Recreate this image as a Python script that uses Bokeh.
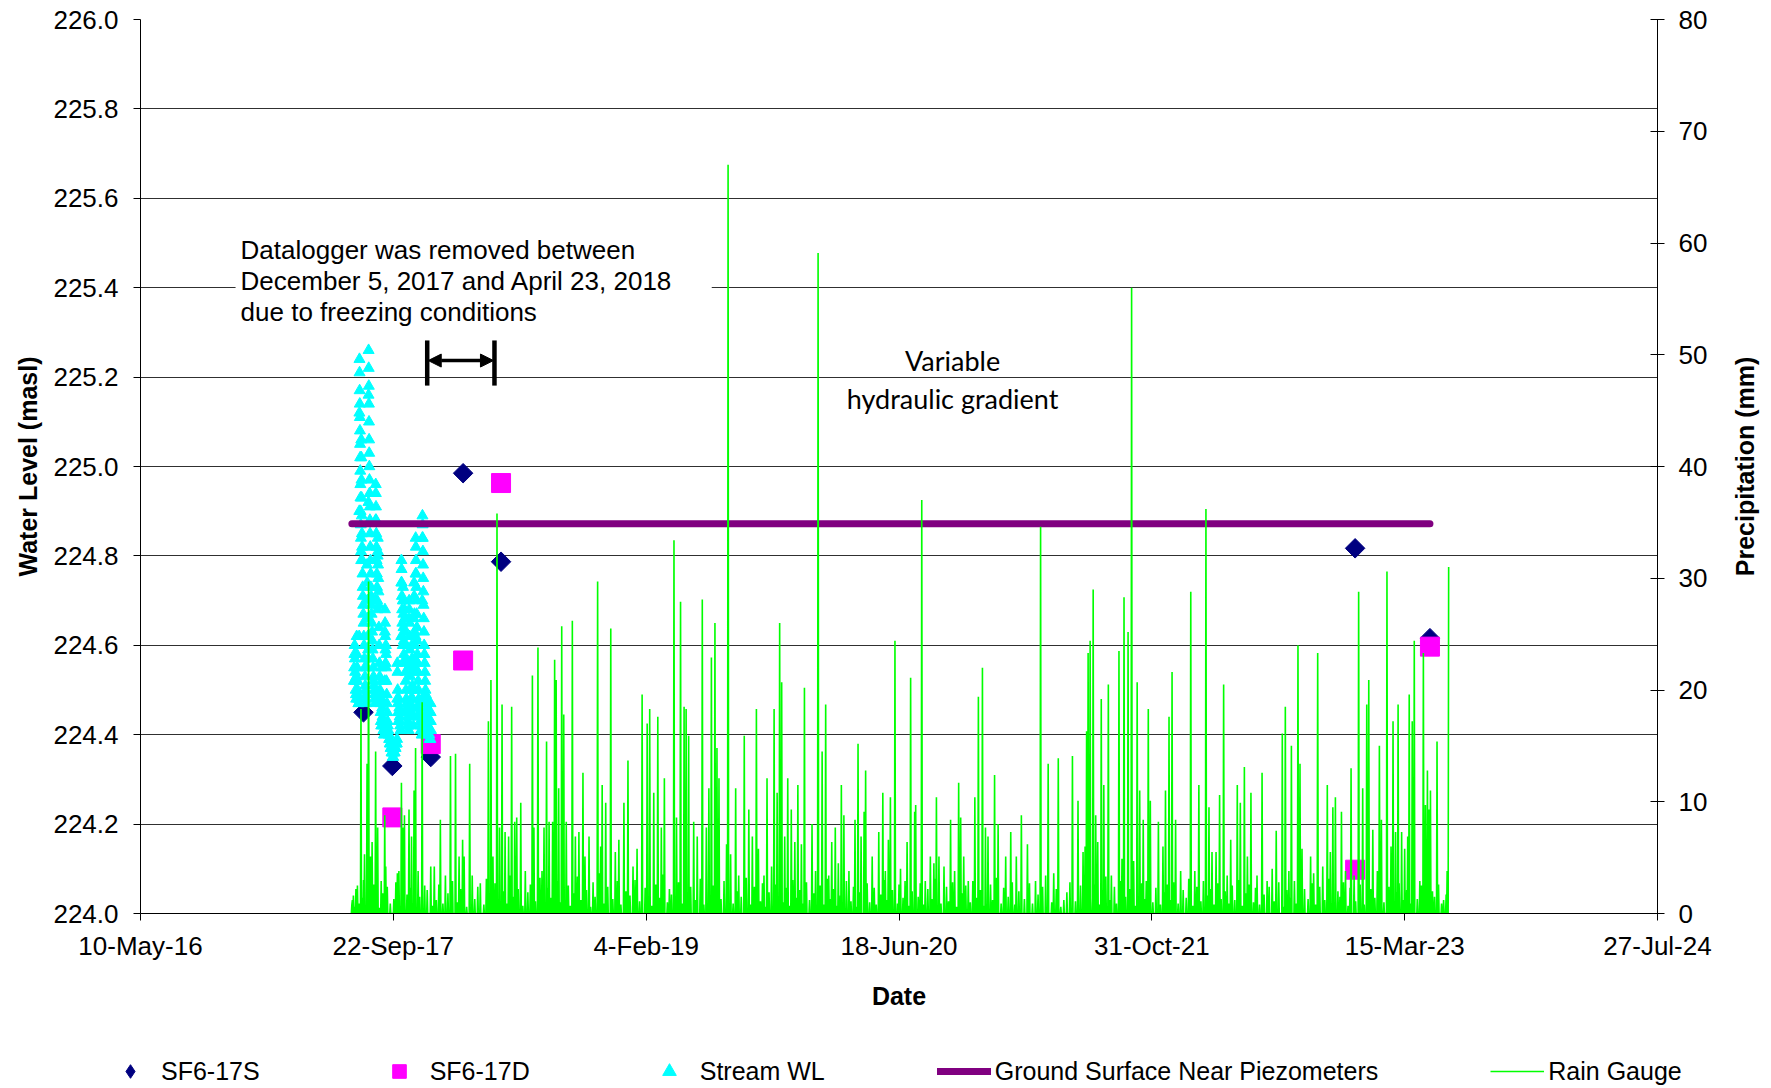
import math
import numpy as np
import pandas as pd
from bokeh.plotting import figure
from bokeh.layouts import column, row
from bokeh.models import (Range1d, LinearAxis, FixedTicker, NumeralTickFormatter, Label,
                          Arrow, NormalHead, Legend, LegendItem)
from bokeh.embed import file_html
from bokeh.resources import INLINE

# ---------------- data ----------------
x_tick_dates = ["2016-05-10", "2017-09-22", "2019-02-04", "2020-06-18", "2021-10-31", "2023-03-15", "2024-07-27"]
x_tick_labels = ["10-May-16", "22-Sep-17", "4-Feb-19", "18-Jun-20", "31-Oct-21", "15-Mar-23", "27-Jul-24"]
wl_ticks = [224.0, 224.2, 224.4, 224.6, 224.8, 225.0, 225.2, 225.4, 225.6, 225.8, 226.0]
rain_ticks = [0, 10, 20, 30, 40, 50, 60, 70, 80]

sf6_17s_dates = ["2017-07-25", "2017-09-20", "2017-12-05", "2018-02-07", "2018-04-23", "2022-12-07", "2023-05-04"]
sf6_17s_wl = [224.45, 224.33, 224.35, 224.985, 224.787, 224.817, 224.616]

sf6_17d_dates = ["2017-09-20", "2017-12-05", "2018-02-07", "2018-04-23", "2022-12-07", "2023-05-04"]
sf6_17d_wl = [224.215, 224.379, 224.566, 224.963, 224.098, 224.597]

ground_dates = ["2017-07-02", "2023-05-04"]
ground_wl = [224.872, 224.872]

# stream logger readings: (days after 2017-07-01, water level masl)
stream_start = "2017-07-01"
stream_readings = [
    (5.0, 224.52), (5.5, 224.55), (6.0, 224.58), (6.5, 224.60), (7.0, 224.57), (7.5, 224.54), (8.0, 224.52),
    (8.5, 224.50), (9.0, 224.49), (9.5, 224.48), (10.0, 224.53), (10.5, 224.62), (11.0, 224.58), (11.5, 224.55),
    (12.0, 224.52), (12.5, 224.50), (13.0, 224.49), (13.5, 224.48), (14.0, 224.47), (14.5, 224.47), (15.0, 224.48),
    (15.5, 224.62), (15.7, 224.90), (15.9, 225.12), (16.0, 225.24), (16.2, 225.21), (16.4, 225.17), (16.6, 225.14),
    (16.8, 225.11), (17.0, 225.08), (17.2, 225.05), (17.4, 225.02), (17.6, 224.99), (17.8, 224.96), (18.0, 224.93),
    (18.3, 224.90), (18.6, 224.87), (18.9, 224.84), (19.2, 224.81), (19.4, 224.79), (19.6, 225.06), (19.8, 225.02),
    (20.0, 224.97), (20.3, 224.93), (20.6, 224.89), (20.9, 224.85), (21.2, 224.82), (21.6, 224.79), (22.0, 224.76),
    (22.4, 224.73), (22.8, 224.71), (23.2, 224.69), (23.7, 224.67), (24.2, 224.65), (24.7, 224.62), (25.2, 224.60),
    (25.8, 224.57), (26.4, 224.55), (27.0, 224.53), (27.6, 224.51), (28.2, 224.50), (28.8, 224.49), (29.4, 224.48),
    (30.0, 224.47),
    (30.6, 224.55), (31.0, 224.78), (31.3, 224.74), (31.6, 224.70), (32.0, 224.66), (32.5, 224.62), (33.0, 224.59),
    (33.5, 224.57), (33.8, 224.92), (34.0, 225.16), (34.1, 225.26), (34.3, 225.22), (34.5, 225.18), (34.7, 225.14),
    (34.9, 225.10), (35.1, 225.06), (35.3, 225.03), (35.5, 225.00), (35.8, 224.97), (36.1, 224.94), (36.4, 224.91),
    (36.7, 224.88), (37.0, 224.85), (37.4, 224.82), (37.8, 224.79), (38.2, 224.76), (38.6, 224.73), (39.0, 224.71),
    (39.5, 224.69), (40.0, 224.67), (40.5, 224.65), (41.0, 224.63), (41.5, 224.61), (42.0, 224.59), (42.6, 224.57),
    (43.2, 224.55), (43.8, 224.53), (44.4, 224.52), (45.0, 224.51), (45.6, 224.50), (46.2, 224.49), (46.8, 224.48),
    (47.4, 224.47),
    (47.8, 224.70), (48.0, 224.88), (48.2, 224.96), (48.4, 224.94), (48.7, 224.91), (49.0, 224.88), (49.3, 224.85),
    (49.6, 224.82), (50.0, 224.79), (50.4, 224.76), (50.8, 224.73), (51.2, 224.70), (51.6, 224.68), (52.0, 224.80),
    (52.2, 224.84), (52.5, 224.81), (52.8, 224.78), (53.2, 224.75), (53.6, 224.72), (54.0, 224.69), (54.5, 224.64),
    (55.0, 224.60), (55.5, 224.56), (56.0, 224.53), (56.6, 224.50), (57.2, 224.47), (57.8, 224.45), (58.4, 224.43),
    (59.0, 224.42),
    (59.5, 224.48), (59.8, 224.55), (60.1, 224.52), (60.5, 224.49), (61.0, 224.46), (61.6, 224.44), (62.2, 224.43),
    (62.8, 224.42), (63.4, 224.41), (64.0, 224.41), (64.6, 224.40), (65.2, 224.40), (65.8, 224.41), (66.0, 224.52),
    (66.2, 224.63), (66.4, 224.68), (66.7, 224.65), (67.0, 224.62), (67.4, 224.59), (67.8, 224.56), (68.2, 224.60),
    (68.5, 224.58), (68.9, 224.55), (69.4, 224.52), (69.9, 224.49), (70.5, 224.47), (71.1, 224.45), (71.7, 224.43),
    (72.3, 224.42), (73.0, 224.41),
    (73.6, 224.40), (74.2, 224.40), (74.8, 224.39), (75.4, 224.39), (76.0, 224.38), (76.6, 224.38), (77.2, 224.38),
    (77.8, 224.37), (78.4, 224.37), (79.0, 224.37), (79.6, 224.36), (80.2, 224.36), (80.8, 224.36), (81.4, 224.36),
    (82.0, 224.35), (82.6, 224.35), (83.2, 224.36), (83.8, 224.37), (84.4, 224.36), (85.0, 224.36), (85.6, 224.36),
    (86.2, 224.37), (86.8, 224.37), (87.4, 224.37), (88.0, 224.38), (88.6, 224.38), (89.2, 224.38), (89.8, 224.38),
    (90.4, 224.39), (90.7, 224.48), (90.9, 224.56), (91.2, 224.54), (91.6, 224.50), (92.0, 224.47), (92.5, 224.45),
    (93.0, 224.43),
    (93.6, 224.45), (94.2, 224.48), (94.8, 224.46), (95.4, 224.44), (96.0, 224.43), (96.6, 224.42), (97.2, 224.41),
    (97.8, 224.41), (98.4, 224.45), (98.6, 224.62), (98.8, 224.74), (99.0, 224.79), (99.3, 224.77), (99.6, 224.74),
    (100.0, 224.71), (100.4, 224.68), (100.8, 224.65), (101.2, 224.62), (101.6, 224.60), (101.9, 224.70),
    (102.1, 224.73), (102.4, 224.70), (102.8, 224.67), (103.2, 224.64), (103.6, 224.61), (104.0, 224.58),
    (104.5, 224.56), (105.0, 224.60), (105.2, 224.68), (105.5, 224.66), (105.8, 224.63), (106.2, 224.60),
    (106.6, 224.57), (107.0, 224.54), (107.5, 224.52), (108.0, 224.50), (108.6, 224.48), (109.2, 224.47),
    (109.8, 224.46), (110.4, 224.45), (111.0, 224.44), (111.6, 224.43), (112.2, 224.42), (112.8, 224.42),
    (113.4, 224.41),
    (113.8, 224.55), (114.0, 224.66), (114.3, 224.70), (114.6, 224.68), (115.0, 224.65), (115.4, 224.62),
    (115.8, 224.59), (116.2, 224.56), (116.7, 224.53), (117.2, 224.50), (117.7, 224.48), (118.2, 224.46),
    (118.8, 224.45), (119.1, 224.56), (119.4, 224.60), (119.8, 224.57), (120.2, 224.54), (120.7, 224.51),
    (121.2, 224.48), (121.8, 224.46), (122.4, 224.44), (123.0, 224.42),
    (123.5, 224.50), (123.7, 224.66), (124.0, 224.74), (124.3, 224.71), (124.7, 224.67), (125.1, 224.63),
    (125.5, 224.60), (126.0, 224.57), (126.5, 224.55), (126.8, 224.62), (127.0, 224.76), (127.2, 224.84),
    (127.5, 224.82), (127.8, 224.79), (128.1, 224.76), (128.4, 224.73), (128.8, 224.70), (129.2, 224.67),
    (129.6, 224.64), (130.0, 224.61), (130.5, 224.58), (131.0, 224.56), (131.5, 224.54), (132.0, 224.52),
    (132.6, 224.50), (133.2, 224.48), (133.8, 224.47), (134.4, 224.46), (135.0, 224.45), (135.7, 224.44),
    (136.4, 224.43), (137.1, 224.42), (137.8, 224.41), (138.5, 224.41), (139.2, 224.40), (139.8, 224.40),
    (140.0, 224.48), (140.2, 224.70), (140.4, 224.84), (140.6, 224.89), (140.9, 224.87), (141.2, 224.84),
    (141.5, 224.81), (141.8, 224.78), (142.1, 224.75), (142.4, 224.72), (142.8, 224.69), (143.2, 224.66),
    (143.6, 224.63), (144.0, 224.60), (144.5, 224.58), (145.0, 224.56), (145.5, 224.54), (146.0, 224.52),
    (146.6, 224.50), (147.2, 224.49), (147.8, 224.48), (148.4, 224.47), (149.0, 224.46), (149.6, 224.45),
    (150.2, 224.44), (150.8, 224.43), (151.4, 224.42), (152.0, 224.41), (152.7, 224.41), (153.4, 224.40),
    (154.1, 224.40), (154.8, 224.39), (155.5, 224.39), (156.2, 224.39), (156.6, 224.47), (156.8, 224.45),
    (157.1, 224.43), (157.4, 224.41),
]

# daily rain gauge record starting 2017-07-01: (day number, mm); days not listed had no rain
rain_start = "2017-07-01"
rain_record_days = 2171
rain_events = [
    (2, 1.2), (12, 2.5), (19, 18.3), (26, 5.3), (31, 13.4), (34, 29.7), (38, 5.1), (41, 6.4), (48, 14.5), (52, 7.7),
    (59, 2.9), (66, 8.8), (68, 4.2), (91, 3.6), (94, 3.8), (99, 11.7), (102, 7.7), (105, 8.8), (114, 9.3), (119, 6.9),
    (124, 11.0), (127, 14.8), (132, 3.8), (140, 18.9), (145, 2.5), (157, 4.2), (164, 4.2), (176, 8.4), (186, 3.4),
    (196, 14.1), (206, 14.3), (213, 5.1), (220, 6.6), (223, 5.1), (234, 13.4), (239, 3.4), (255, 2.7), (271, 17.2),
    (276, 20.9), (280, 5.1), (288, 35.8), (293, 7.7), (298, 18.7), (304, 7.3), (311, 6.9), (317, 18.5), (323, 8.2),
    (327, 8.6), (335, 9.9), (344, 3.8), (358, 21.3), (361, 7.7), (369, 23.8), (377, 3.8), (381, 7.7), (386, 15.4),
    (391, 8.2), (398, 8.2), (402, 22.7), (405, 20.9), (410, 11.2), (416, 25.7), (420, 17.8), (425, 8.2), (437, 26.2),
    (443, 6.9), (450, 7.3), (458, 12.6), (462, 5.1), (470, 6.9), (487, 29.7), (493, 6.0), (496, 11.5), (503, 9.9),
    (513, 25.5), (522, 5.5), (529, 6.6), (539, 9.9), (547, 13.7), (557, 4.2), (565, 5.8), (575, 19.6), (585, 17.0),
    (590, 18.3), (598, 10.8), (606, 17.6), (613, 7.7), (619, 12.1), (638, 33.4), (643, 8.6), (651, 27.9), (658, 18.5),
    (662, 18.3), (667, 15.9), (677, 8.2), (684, 6.9), (694, 28.1), (702, 7.7), (707, 11.2), (712, 22.9), (719, 26.0),
    (723, 14.8), (727, 12.1), (742, 6.2), (745, 67.0), (750, 5.3), (760, 11.2), (766, 3.4), (777, 15.9), (786, 9.3),
    (793, 6.9), (801, 18.3), (805, 5.8), (816, 3.4), (822, 12.1), (831, 4.2), (836, 18.3), (842, 10.8), (847, 26.0),
    (851, 20.7), (857, 6.9), (863, 12.1), (870, 9.3), (877, 6.4), (883, 11.5), (890, 6.2), (896, 20.2), (911, 8.0),
    (918, 3.8), (923, 59.1), (931, 14.5), (938, 18.7), (944, 3.4), (950, 6.4), (957, 7.7), (963, 4.5), (969, 11.5),
    (974, 8.8), (984, 3.8), (996, 8.4), (1002, 15.2), (1008, 6.9), (1014, 9.1), (1017, 12.8), (1030, 5.1),
    (1043, 7.3), (1051, 10.8), (1056, 3.8), (1062, 6.6), (1066, 10.4), (1075, 24.4), (1086, 4.0), (1099, 6.4),
    (1106, 21.1), (1114, 9.1), (1116, 9.7), (1128, 37.0), (1135, 2.9), (1145, 5.1), (1152, 4.5), (1157, 10.4),
    (1162, 5.1), (1172, 4.2), (1185, 8.4), (1193, 3.8), (1201, 11.7), (1205, 8.6), (1211, 5.1), (1220, 2.9),
    (1233, 10.4), (1240, 19.4), (1248, 22.0), (1254, 7.7), (1259, 6.9), (1272, 12.4), (1279, 8.0), (1294, 5.1),
    (1304, 7.3), (1315, 5.1), (1325, 8.8), (1337, 6.2), (1353, 2.9), (1363, 34.6), (1373, 3.4), (1378, 13.4),
    (1389, 3.6), (1398, 13.9), (1409, 1.2), (1426, 14.1), (1437, 10.1), (1447, 5.5), (1451, 6.0), (1454, 16.3),
    (1457, 23.3), (1461, 24.4), (1467, 29.0), (1472, 8.8), (1476, 6.4), (1483, 19.2), (1488, 11.5), (1497, 20.5),
    (1503, 3.4), (1518, 23.5), (1524, 4.9), (1528, 28.3), (1536, 25.2), (1543, 56.0), (1547, 4.7), (1554, 20.7),
    (1559, 11.0), (1566, 8.4), (1572, 2.9), (1576, 18.3), (1580, 10.1), (1596, 8.2), (1605, 6.0), (1610, 11.0),
    (1617, 17.6), (1623, 21.6), (1630, 8.4), (1640, 3.8), (1660, 28.8), (1668, 3.8), (1676, 11.5), (1690, 36.2),
    (1696, 9.5), (1702, 5.5), (1710, 5.5), (1717, 10.6), (1725, 20.5), (1732, 3.4), (1739, 6.6), (1752, 11.5),
    (1758, 9.9), (1766, 13.1), (1772, 5.1), (1779, 10.8), (1791, 3.4), (1801, 12.6), (1811, 2.9), (1821, 4.0),
    (1829, 7.4), (1841, 16.1), (1847, 18.5), (1854, 3.8), (1859, 15.0), (1872, 24.0), (1876, 13.4), (1880, 5.8),
    (1897, 5.1), (1903, 3.6), (1911, 23.3), (1921, 4.2), (1930, 11.5), (1936, 5.5), (1941, 9.5), (1946, 10.4),
    (1958, 9.1), (1966, 3.8), (1977, 13.0), (1983, 3.4), (1992, 28.8), (2000, 11.2), (2008, 18.7), (2012, 20.9),
    (2020, 7.5), (2029, 3.8), (2033, 15.0), (2037, 8.4), (2048, 30.6), (2056, 6.0), (2060, 17.2), (2065, 7.3),
    (2070, 18.7), (2077, 7.3), (2083, 5.8), (2089, 6.9), (2092, 19.6), (2098, 17.2), (2102, 24.4), (2113, 2.9),
    (2120, 23.3), (2124, 9.7), (2128, 12.8), (2131, 9.3), (2134, 11.0), (2147, 15.4), (2160, 1.2), (2167, 3.8),
    (2170, 31.0),
]
rain_light = [
    (1, 0.8), (4, 1.6), (7, 0.6), (9, 2.2), (15, 0.9), (22, 1.4), (24, 3.0), (28, 0.7), (36, 1.9), (44, 2.6),
    (50, 1.1), (55, 0.5), (62, 1.8), (71, 2.4), (77, 0.9), (84, 1.3), (88, 2.8), (97, 0.6), (110, 1.7), (116, 2.3),
    (121, 0.8), (135, 1.5), (150, 2.1), (161, 0.7), (168, 1.2), (173, 2.6), (181, 0.9), (191, 1.8), (200, 2.9),
    (209, 1.0), (216, 2.2), (228, 0.6), (244, 1.3), (250, 2.4), (262, 0.8), (267, 3.1), (273, 1.6), (284, 2.7),
    (291, 1.2), (301, 2.0), (308, 0.9), (314, 3.4), (320, 1.5), (330, 2.2), (339, 0.7), (349, 1.9), (354, 2.6),
    (364, 1.1), (373, 3.2), (383, 0.8), (389, 2.3), (395, 1.4), (408, 2.9), (413, 1.0), (429, 2.5), (433, 0.7),
    (440, 1.8), (447, 3.3), (454, 1.2), (465, 2.1), (473, 0.6), (478, 2.8), (482, 1.5), (490, 3.6), (500, 0.9),
    (507, 2.4), (517, 1.3), (526, 2.9), (533, 0.8), (543, 2.0), (551, 1.6), (561, 3.0), (570, 1.1), (581, 2.3),
    (594, 0.7), (602, 2.6), (610, 1.4), (616, 3.5), (625, 1.0), (629, 2.2), (633, 1.7), (647, 2.8), (655, 0.9),
    (671, 2.4), (681, 1.2), (690, 3.1), (697, 0.8), (716, 2.5), (731, 1.3), (737, 2.9), (755, 0.9), (763, 2.0),
    (771, 1.5), (781, 3.2), (790, 0.8), (797, 2.4), (809, 1.1), (813, 2.7), (819, 0.6), (826, 1.9), (840, 2.6),
    (853, 1.0), (860, 2.3), (867, 0.7), (873, 3.0), (880, 1.4), (887, 2.1), (893, 0.9), (900, 2.8), (906, 1.2),
    (915, 1.8), (927, 2.5), (934, 0.8), (941, 3.1), (947, 1.3), (953, 2.2), (960, 0.7), (967, 1.6), (979, 2.9),
    (988, 1.1), (993, 2.4), (999, 0.6), (1005, 1.9), (1020, 2.7), (1025, 1.0), (1034, 2.3), (1038, 0.8), (1047, 1.7),
    (1053, 3.0), (1059, 1.2), (1070, 2.1), (1080, 0.9), (1083, 2.6), (1091, 1.4), (1095, 2.9), (1103, 0.7),
    (1109, 2.0), (1121, 1.5), (1125, 2.7), (1132, 0.8), (1140, 2.2), (1148, 1.3), (1155, 3.1), (1166, 0.9),
    (1177, 2.4), (1181, 1.1), (1189, 2.8), (1197, 0.6), (1208, 1.8), (1215, 2.5), (1224, 1.0), (1229, 2.9),
    (1237, 1.4), (1244, 2.1), (1251, 0.7), (1264, 2.6), (1268, 1.2), (1276, 3.2), (1285, 0.9), (1290, 2.3),
    (1299, 1.5), (1307, 2.8), (1312, 0.8), (1320, 2.0), (1331, 1.3), (1341, 2.7), (1347, 0.9), (1358, 1.7),
    (1367, 2.4), (1385, 1.0), (1394, 2.2), (1403, 0.6), (1415, 1.9), (1421, 2.8), (1432, 1.1), (1442, 2.5),
    (1466, 1.4), (1470, 2.6), (1479, 0.8), (1486, 2.1), (1492, 3.3), (1500, 1.2), (1509, 2.4), (1513, 0.9),
    (1521, 2.9), (1531, 1.5), (1539, 2.2), (1550, 0.7), (1563, 2.7), (1569, 1.3), (1578, 3.0), (1585, 1.0),
    (1591, 2.3), (1600, 0.8), (1607, 1.9), (1614, 2.6), (1620, 1.2), (1626, 2.8), (1635, 0.9), (1645, 2.1),
    (1651, 1.4), (1656, 3.1), (1664, 0.7), (1672, 2.4), (1680, 1.1), (1685, 2.9), (1693, 1.6), (1699, 2.2),
    (1706, 0.8), (1713, 2.7), (1720, 1.3), (1728, 2.0), (1735, 0.9), (1742, 2.5), (1747, 1.2), (1755, 3.0),
    (1762, 0.7), (1769, 1.8), (1775, 2.6), (1784, 1.0), (1788, 2.3), (1796, 0.8), (1805, 1.7), (1815, 2.4),
    (1825, 1.1), (1834, 2.8), (1845, 0.6), (1850, 2.1), (1857, 1.4), (1865, 2.9), (1869, 0.9), (1885, 2.2),
    (1892, 1.3), (1900, 2.7), (1907, 0.8), (1915, 2.4), (1925, 1.2), (1933, 3.1), (1939, 0.9), (1951, 2.0),
    (1955, 1.5), (1962, 2.8), (1971, 0.7), (1975, 2.3), (1986, 1.1), (1995, 2.6), (2003, 0.8), (2016, 2.2),
    (2024, 1.4), (2035, 2.9), (2042, 1.0), (2052, 2.4), (2058, 0.7), (2067, 1.9), (2072, 2.7), (2080, 1.2),
    (2087, 2.1), (2094, 0.9), (2100, 2.8), (2108, 1.3), (2116, 2.5), (2122, 0.8), (2138, 2.0), (2142, 1.5),
    (2150, 2.6), (2156, 0.9), (2165, 1.7),
]

legend_labels = ["SF6-17S", "SF6-17D", "Stream WL", "Ground Surface Near Piezometers", "Rain Gauge"]

# ---------------- helpers ----------------
def ms(d):
    return pd.Timestamp(d).value / 1e6

stream_base = pd.Timestamp(stream_start)
stream_x = [stream_base + pd.Timedelta(days=d) for d, _ in stream_readings]
stream_y = [w for _, w in stream_readings]

rain_daily = np.zeros(rain_record_days)
for d, v in rain_events + rain_light:
    rain_daily[d] = max(rain_daily[d], v)
rain_x = pd.date_range(rain_start, periods=rain_record_days, freq="D")

FONT = "Liberation Sans"
FS = "26px"
W = 1771
W_SIDE = 44
W_MAIN = W - W_SIDE
H_LEG = 36
H_MAIN = 1088 - H_LEG
TOP, BOTTOM = 19, H_MAIN - 913

STYLE_S = dict(marker="square", angle=math.pi / 4, size=13.8, fill_color="#000080", line_color="#000080")
STYLE_D = dict(marker="square", size=19, fill_color="#FF00FF", line_color="#FF00FF")
STYLE_W = dict(marker="triangle", size=11, fill_color="#00FFFF", line_color="#00FFFF")
STYLE_G = dict(line_width=7, line_color="#800080", line_cap="round")
STYLE_R = dict(line_width=1.6, line_color="#00FF00")

p = figure(width=W_MAIN, height=H_MAIN, x_axis_type="datetime",
           x_range=Range1d(ms(x_tick_dates[0]), ms(x_tick_dates[-1])),
           y_range=Range1d(wl_ticks[0], wl_ticks[-1]),
           output_backend="svg", toolbar_location=None,
           min_border_left=140, min_border_right=W_MAIN - 1657, min_border_top=TOP, min_border_bottom=BOTTOM)
p.outline_line_color = None
p.background_fill_color = "white"
p.extra_y_ranges = {"rain": Range1d(rain_ticks[0], rain_ticks[-1])}

# grid
p.xgrid.visible = False
p.ygrid.ticker = FixedTicker(ticks=wl_ticks)
p.ygrid.grid_line_color = "#303030"
p.ygrid.grid_line_width = 1

# x axis
xa = p.xaxis[0]
xa.ticker = FixedTicker(ticks=[ms(d) for d in x_tick_dates])
xa.major_label_overrides = {ms(d): lab for d, lab in zip(x_tick_dates, x_tick_labels)}
xa.axis_label = "Date"
xa.major_label_standoff = 10
xa.axis_label_standoff = 18

# left axis
ya = p.yaxis[0]
ya.ticker = FixedTicker(ticks=wl_ticks)
ya.formatter = NumeralTickFormatter(format="0.0")
ya.axis_label = "Water Level (masl)"
ya.major_label_standoff = 15
ya.axis_label_standoff = 8

# right axis (its title is drawn by the narrow strip figure to the right)
ra = LinearAxis(y_range_name="rain", ticker=FixedTicker(ticks=rain_ticks))
ra.major_tick_in = 7
ra.major_tick_out = 7
ra.major_label_standoff = 14
p.add_layout(ra, "right")

for ax in (xa, ya, ra):
    ax.major_label_text_font = FONT
    ax.major_label_text_font_size = FS
    ax.major_label_text_color = "black"
    ax.axis_label_text_font = FONT
    ax.axis_label_text_font_size = "25px"
    ax.axis_label_text_font_style = "bold"
    ax.axis_label_text_color = "black"
    ax.axis_line_color = "black"
    ax.axis_line_width = 1
    ax.major_tick_line_color = "black"
    ax.minor_tick_line_color = None
xa.major_tick_in = 0
xa.major_tick_out = 7
ya.major_tick_in = 0
ya.major_tick_out = 7

# series
r_s = p.scatter(pd.to_datetime(sf6_17s_dates), sf6_17s_wl, **STYLE_S)
r_d = p.scatter(pd.to_datetime(sf6_17d_dates), sf6_17d_wl, **STYLE_D)
r_w = p.scatter(stream_x, stream_y, **STYLE_W)
r_g = p.line(pd.to_datetime(ground_dates), ground_wl, **STYLE_G)
r_r = p.line(rain_x, rain_daily, y_range_name="rain", **STYLE_R)

# annotations
note = Label(x=ms("2016-11-14"), y=225.532, x_units="data", y_units="data",
             text="Datalogger was removed between\nDecember 5, 2017 and April 23, 2018\ndue to freezing conditions",
             text_font=FONT, text_font_size=FS, text_color="black", text_align="left", text_baseline="top",
             text_line_height=1.04, background_fill_color="white",
             padding=dict(left=5, right=39, top=6, bottom=6))
p.add_layout(note)

gap_start, gap_end = "2017-11-28", "2018-04-10"
p.segment(x0=[ms(gap_start), ms(gap_end)], y0=[225.181, 225.181],
          x1=[ms(gap_start), ms(gap_end)], y1=[225.282, 225.282], line_width=4.5, line_color="black")
p.add_layout(Arrow(start=NormalHead(size=13, fill_color="black", line_color="black"),
                   end=NormalHead(size=13, fill_color="black", line_color="black"),
                   x_start=ms(gap_start) + 2 * 86400000, y_start=225.237,
                   x_end=ms(gap_end) - 2 * 86400000, y_end=225.237,
                   line_width=3.5, line_color="black"))

for txt, yy in (("Variable", 225.238), ("hydraulic gradient", 225.153)):
    p.add_layout(Label(x=ms("2020-10-02"), y=yy, text=txt, text_font="Lato", text_font_size="27px",
                       text_color="black", text_align="center", text_baseline="alphabetic"))

# ---------------- narrow strip holding the secondary-axis title ----------------
side = figure(width=W_SIDE, height=H_MAIN, x_range=Range1d(0, 1), y_range=Range1d(0, 1),
              output_backend="svg", toolbar_location=None, x_axis_location=None, y_axis_location="left",
              min_border_left=0, min_border_right=0, min_border_top=TOP, min_border_bottom=BOTTOM)
side.outline_line_color = None
side.xgrid.visible = False
side.ygrid.visible = False
sa = side.yaxis[0]
sa.ticker = FixedTicker(ticks=[])
sa.axis_line_color = None
sa.major_tick_line_color = None
sa.minor_tick_line_color = None
sa.major_tick_in = 0
sa.major_tick_out = 0
sa.major_label_standoff = 0
sa.axis_label = "Precipitation (mm)"
sa.axis_label_standoff = 0
sa.axis_label_text_font = FONT
sa.axis_label_text_font_size = "25px"
sa.axis_label_text_font_style = "bold"
sa.axis_label_text_color = "black"

# ---------------- legend strip below the chart ----------------
lg = figure(width=W, height=H_LEG, x_range=Range1d(0, 1), y_range=Range1d(0, 1),
            output_backend="svg", toolbar_location=None, x_axis_location=None, y_axis_location=None,
            min_border=0)
try:
    lg.frame_align = False
except (AttributeError, ValueError):
    pass
lg.outline_line_color = None
lg.xgrid.visible = False
lg.ygrid.visible = False
far = [5.0]
l_s = lg.scatter(far, far, marker="diamond", size=17, fill_color="#000080", line_color="#000080")
l_d = lg.scatter(far, far, **STYLE_D)
l_w = lg.scatter(far, far, marker="triangle", size=11, fill_color="#00FFFF", line_color="#00FFFF")
l_g = lg.line([5.0, 6.0], [5.0, 6.0], **STYLE_G)
l_r = lg.line([5.0, 6.0], [5.0, 6.0], **STYLE_R)
legend = Legend(items=[LegendItem(label=lab, renderers=[r]) for lab, r in
                       zip(legend_labels, [l_s, l_d, l_w, l_g, l_r])],
                orientation="horizontal", location=(103, 0), spacing=112,
                glyph_width=54, glyph_height=34, label_standoff=4, padding=0, margin=0,
                border_line_color=None, background_fill_alpha=0,
                label_text_font=FONT, label_text_font_size="25px", label_text_color="black")
lg.add_layout(legend)

layout = column(row(p, side, spacing=0), lg, spacing=0)
open("out.html", "w").write(file_html(layout, INLINE))
